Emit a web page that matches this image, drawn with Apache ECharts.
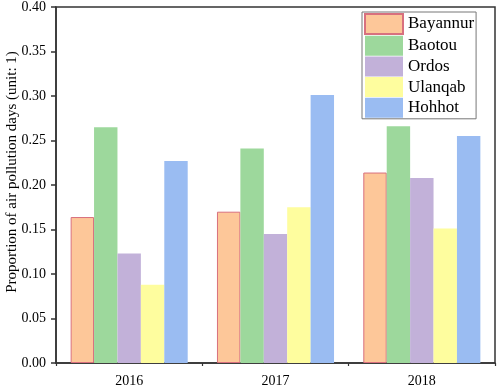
<!DOCTYPE html>
<html><head><meta charset="utf-8">
<script src="https://cdn.jsdelivr.net/npm/echarts@6/dist/echarts.min.js"></script>
<style>html,body{margin:0;padding:0;background:#fff}#c{width:498px;height:387px}</style>
</head><body><div id="c"></div>
<script>
const years = ['2016', '2017', '2018'];
const cities = ['Bayannur', 'Baotou', 'Ordos', 'Ulanqab', 'Hohhot'];
const bayannur = [0.164, 0.170, 0.214];
const baotou = [0.265, 0.241, 0.266];
const ordos = [0.123, 0.145, 0.208];
const ulanqab = [0.088, 0.175, 0.151];
const hohhot = [0.227, 0.301, 0.255];
const yTicks = [0, 0.05, 0.10, 0.15, 0.20, 0.25, 0.30, 0.35, 0.40];

const values = [bayannur, baotou, ordos, ulanqab, hohhot];
const fills = ['#FDC799', '#9DD89C', '#C2B1D9', '#FEFD9E', '#9ABCF2'];
const borders = ['#D8707E', '#9DD89C', '#C2B1D9', '#FEFD9E', '#9ABCF2'];
const font = 'Liberation Serif';

const chart = echarts.init(document.getElementById('c'), null, {renderer: 'canvas'});
chart.setOption({
  animation: false,
  grid: {left: 56, right: 3, top: 7, bottom: 24, containLabel: false, outerBoundsMode: 'none',
    show: true, borderColor: '#333', borderWidth: 1.5, backgroundColor: 'transparent'},
  legend: {
    data: cities, orient: 'vertical', left: 362, top: 12,
    itemWidth: 38, itemHeight: 20, itemGap: 0.7,
    padding: [1, 2, 1, 2],
    borderColor: '#777', borderWidth: 1,
    textStyle: {fontFamily: font, fontSize: 17, color: '#000', padding: [0, 0, 0, 0]},
    icon: 'rect'
  },
  xAxis: [{
    type: 'category', data: years,
    axisLine: {lineStyle: {color: '#333', width: 1.5}},
    axisTick: {alignWithLabel: true, length: 5, lineStyle: {color: '#333', width: 1.5}},
    axisLabel: {fontFamily: font, fontSize: 14, color: '#000', margin: 11}
  }, {
    type: 'category', data: years, position: 'bottom',
    axisLine: {show: false},
    axisTick: {show: true, length: 3, lineStyle: {color: '#333', width: 1.2}},
    axisLabel: {show: false}
  }],
  yAxis: {
    type: 'value', min: 0, max: 0.4, interval: 0.05,
    name: 'Proportion of air pollution days (unit: 1)',
    nameLocation: 'middle', nameGap: 36, nameMoveOverlap: false,
    nameTextStyle: {fontFamily: font, fontSize: 15, color: '#000', padding: [0, 0, 0, 26]},
    axisLine: {show: true, lineStyle: {color: '#333', width: 1.5}},
    axisTick: {show: true, length: 5, lineStyle: {color: '#333', width: 1.5}},
    splitLine: {show: false},
    axisLabel: {fontFamily: font, fontSize: 14, color: '#000', margin: 10,
      formatter: v => yTicks.includes(Math.round(v * 100) / 100) ? v.toFixed(2) : ''}
  },
  series: cities.map((c, i) => ({
    name: c, type: 'bar', data: values[i],
    barGap: '0%', barCategoryGap: '20%',
    itemStyle: {color: fills[i], borderColor: borders[i], borderWidth: i === 0 ? 1 : 0}
  }))
});
</script></body></html>
